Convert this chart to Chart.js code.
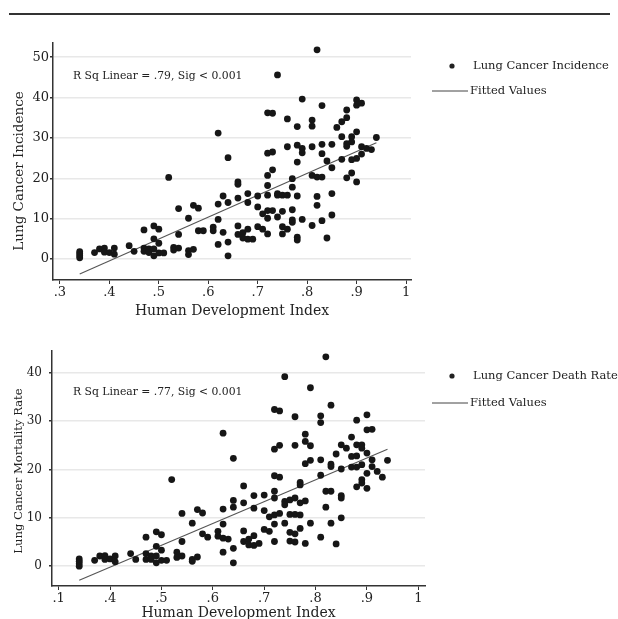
<!DOCTYPE html>
<html>
<head>
<meta charset="utf-8">
<script src="https://cdn.jsdelivr.net/npm/chart.js@4/dist/chart.umd.min.js"></script>
<style>
  html, body { margin: 0; padding: 0; background: #fff; overflow: hidden; }
  body { width: 618px; height: 619px; position: relative; }
  .rule { position: absolute; left: 9px; top: 13px; width: 601px; height: 0; border-top: 2px solid #333; }
  .box { position: absolute; left: 0; width: 618px; }
</style>
</head>
<body>
<div class="rule"></div>
<div class="box" style="top:0;height:320px"><canvas id="topChart" width="618" height="320"></canvas></div>
<div class="box" style="top:320px;height:310px"><canvas id="botChart" width="618" height="310"></canvas></div>
<script>
// incidence vs HDI
const incHdi = [
  .34,.34,.34,.34, .37, .38, .39,.39, .40, .41,.41, .44, .45, .47,.47,.47, .48,.48,
  .49,.49,.49,.49, .50,.50,.50, .51, .52, .53,.53, .54,.54,.54, .56,.56,.56, .57,.57,
  .58,.58, .59, .61,.61, .62,.62,.62,.62, .63,.63, .64,.64,.64,.64, .66,.66,.66,.66,.66,
  .67,.67, .68,.68,.68,.68, .69, .70,.70,.70, .71,.71, .72,.72,.72,.72,.72,.72,.72,.72,
  .73,.73,.73,.73, .74,.74,.74,.74, .75,.75,.75,.75, .76,.76,.76,.76, .77,.77,.77,.77,.77,
  .78,.78,.78,.78,.78,.78, .79,.79,.79,.79, .81,.81,.81,.81,.81, .82,.82,.82,.82,
  .83,.83,.83,.83,.83, .84,.84, .85,.85,.85,.85, .86, .87,.87,.87, .88,.88,.88,.88,.88,
  .89,.89,.89,.89, .90,.90,.90,.90,.90, .91,.91,.91, .92, .93, .94
];
const incidence = [
  0.3,0.8,1.3,1.8, 1.6, 2.5, 2.7,1.7, 1.6, 2.7,1.2, 3.3, 1.9, 7.2,2.7,1.9, 2.5,1.6,
  8.2,5.0,2.5,0.8, 7.4,3.9,1.5, 1.5, 20.2, 2.9,2.2, 12.5,6.1,2.7, 10.1,2.1,1.1, 13.3,2.4,
  12.6,7.0, 7.0, 7.9,7.0, 31.2,13.6,9.8,3.6, 15.6,6.6, 25.1,14.0,4.2,0.8, 19.1,18.5,15.1,8.2,6.1,
  6.5,5.2, 16.2,14.0,7.4,4.9, 4.9, 15.6,12.9,8.0, 11.2,7.4, 36.2,26.2,20.7,18.2,15.8,12.0,10.1,6.2,
  36.1,26.5,22.1,12.0, 45.6,16.2,15.8,10.4, 15.8,11.8,8.0,6.2, 34.7,27.8,15.8,7.4, 19.9,17.8,12.2,9.7,9.1,
  32.8,28.2,24.0,15.6,5.4,4.7, 39.6,27.4,26.3,9.8, 34.4,32.9,27.8,20.7,8.3, 51.8,20.3,15.5,13.3,
  38.0,28.4,26.1,20.3,9.5, 24.3,5.2, 28.4,22.6,16.2,10.9, 32.6, 34.0,30.3,24.7, 36.9,35.0,28.6,27.9,20.1,
  30.3,29.0,24.6,21.3, 39.4,38.1,31.5,24.9,19.1, 38.6,27.8,26.0, 27.4, 27.1, 30.1
];
const incFitX = [0.34, 0.94];
const incFitY = [-3.7, 28.8];

// mortality vs HDI
const mortHdi = [
  .34,.34,.34,.34, .37, .38, .39,.39, .40, .41,.41, .44, .45, .47,.47,.47, .48,.48,
  .49,.49,.49,.49, .50,.50,.50, .51, .52, .53,.53, .54,.54,.54, .56,.56,.56, .57,.57,
  .58,.58, .59, .61,.61, .62,.62,.62,.62,.62, .63, .64,.64,.64,.64,.64, .66,.66,.66,.66,
  .67,.67, .68,.68,.68,.68, .69, .70,.70,.70, .71,.71, .72,.72,.72,.72,.72,.72,.72,.72,
  .73,.73,.73,.73, .74,.74,.74,.74, .75,.75,.75,.75, .76,.76,.76,.76,.76,.76, .77,.77,.77,.77,.77,
  .78,.78,.78,.78,.78, .79,.79,.79,.79, .81,.81,.81,.81,.81, .82,.82,.82,
  .83,.83,.83,.83,.83, .84,.84, .85,.85,.85,.85,.85, .86, .87,.87,.87, .88,.88,.88,.88,.88,
  .89,.89,.89,.89,.89, .90,.90,.90,.90,.90, .91,.91,.91, .92, .93, .94
];
const mortality = [
  1.5,1.0,0.5,0.0, 1.2, 2.1, 2.2,1.4, 1.5, 2.1,0.9, 2.6, 1.4, 6.0,2.6,1.4, 2.1,1.4,
  7.1,4.1,2.1,0.7, 6.5,3.3,1.2, 1.2, 17.9, 2.9,1.8, 10.9,5.1,2.1, 8.9,1.4,1.0, 11.7,1.9,
  11.0,6.7, 6.0, 7.2,6.2, 27.5,11.8,8.7,5.8,2.9, 5.6, 22.3,13.6,12.2,3.7,0.7, 16.6,13.1,7.3,5.1,
  5.6,4.4, 14.6,12.0,6.3,4.3, 4.7, 14.7,11.5,7.6, 10.2,7.2, 32.4,24.2,18.7,15.5,14.1,10.6,8.7,5.1,
  32.1,25.0,18.4,10.9, 39.2,13.4,12.7,8.9, 13.7,10.7,7.0,5.2, 30.9,25.0,14.1,10.7,6.7,5.0, 17.3,16.8,13.1,10.6,7.8,
  27.3,25.8,21.2,13.5,4.7, 36.9,24.9,21.9,8.9, 31.1,29.7,22.0,18.8,6.0, 43.3,15.5,12.2,
  33.3,21.1,20.6,15.5,8.9, 23.2,4.6, 25.1,20.1,14.6,14.1,10.0, 24.4, 26.7,22.7,20.5, 30.2,25.1,22.8,20.5,16.4,
  25.1,24.4,21.0,17.9,17.2, 31.3,28.2,23.4,19.2,16.1, 28.3,22.0,20.6, 19.6, 18.4, 21.9
];
const mortFitX = [0.34, 0.94];
const mortFitY = [-2.9, 24.2];

const xTickVals = [0.3, 0.4, 0.5, 0.6, 0.7, 0.8, 0.9, 1.0];
const incXLabels = [".3", ".4", ".5", ".6", ".7", ".8", ".9", "1"];
const mortXLabels = [".1", ".4", ".5", ".6", ".7", ".8", ".9", "1"];
const incYTicks = [0, 10, 20, 30, 40, 50];
const mortYTicks = [0, 10, 20, 30, 40];

const SERIF = "'DejaVu Serif', serif";

// draws the R² note, the rotated y title and the legend
const notePlugin = {
  id: 'notes',
  afterDraw(chart, args, o) {
    const ctx = chart.ctx;
    ctx.save();
    ctx.fillStyle = '#222';
    ctx.textBaseline = 'middle';
    ctx.font = '10.8px ' + SERIF;
    ctx.textAlign = 'left';
    ctx.fillText(o.note, o.noteX, o.noteY);

    ctx.save();
    ctx.translate(o.yTitleX, o.yTitleY);
    ctx.rotate(-Math.PI / 2);
    ctx.textAlign = 'center';
    ctx.font = o.yTitleSize + 'px ' + SERIF;
    ctx.fillText(o.yTitle, 0, 0);
    ctx.restore();

    const ds = chart.data.datasets;
    ctx.font = '11.5px ' + SERIF;
    ctx.beginPath();
    ctx.arc(o.legX + 20, o.legY, 2.6, 0, Math.PI * 2);
    ctx.fill();
    ctx.fillText(ds[0].label, o.legX + 41, o.legY);
    ctx.strokeStyle = '#444';
    ctx.lineWidth = 1;
    ctx.beginPath();
    ctx.moveTo(o.legX, o.legY + o.legGap);
    ctx.lineTo(o.legX + 36, o.legY + o.legGap);
    ctx.stroke();
    ctx.fillText(ds[1].label, o.legX + 38, o.legY + o.legGap);
    ctx.restore();
  }
};

function makeChart(id, xs, ys, fitX, fitY, cfg) {
  const pts = xs.map((x, i) => ({ x: x, y: ys[i] }));
  const fit = fitX.map((x, i) => ({ x: x, y: fitY[i] }));
  return new Chart(document.getElementById(id), {
    type: 'scatter',
    data: {
      datasets: [
        {
          label: cfg.label,
          data: pts,
          backgroundColor: '#161616',
          borderColor: '#161616',
          pointRadius: 3.4,
          pointBorderWidth: 0
        },
        {
          label: 'Fitted Values',
          data: fit,
          type: 'line',
          showLine: true,
          borderColor: '#555',
          borderWidth: 1.1,
          pointRadius: 0,
          fill: false
        }
      ]
    },
    options: {
      responsive: false,
      animation: false,
      events: [],
      layout: { padding: cfg.padding },
      plugins: {
        legend: { display: false },
        tooltip: { enabled: false },
        notes: cfg.notes
      },
      scales: {
        x: {
          type: 'linear',
          min: cfg.xMin,
          max: cfg.xMax,
          afterBuildTicks: s => { s.ticks = xTickVals.map(v => ({ value: v })); },
          afterFit: s => { s.height = cfg.xHeight; },
          ticks: {
            color: '#222',
            font: { family: SERIF, size: 13 },
            padding: 1,
            maxRotation: 0,
            callback: (v, i) => cfg.xLabels[i]
          },
          grid: { drawOnChartArea: false, drawTicks: true, tickLength: 4, tickColor: '#333' },
          border: { display: true, color: '#333', width: 1.5 },
          title: {
            display: true,
            text: 'Human Development Index',
            color: '#222',
            font: { family: SERIF, size: 14 },
            padding: { top: 0, bottom: cfg.xTitlePad }
          }
        },
        y: {
          min: cfg.yMin,
          max: cfg.yMax,
          afterBuildTicks: s => { s.ticks = cfg.yTicks.map(v => ({ value: v })); },
          afterFit: s => { s.width = cfg.yWidth; },
          ticks: {
            color: '#222',
            font: { family: SERIF, size: cfg.yTickSize },
            padding: cfg.yTickPad
          },
          grid: { color: '#e8e8e8', lineWidth: 1.5, tickLength: 3, tickColor: '#333' },
          border: { display: true, color: '#333', width: 1.5 }
        }
      }
    },
    plugins: [notePlugin]
  });
}

makeChart('topChart', incHdi, incidence, incFitX, incFitY, {
  label: 'Lung Cancer Incidence',
  padding: { top: 43, right: 207, left: 0, bottom: 0 },
  xMin: 0.286, xMax: 1.01, yMin: -5.2, yMax: 53.5,
  xHeight: 40, yWidth: 53, xTitlePad: 0,
  xLabels: incXLabels, yTicks: incYTicks, yTickSize: 13, yTickPad: 1,
  notes: {
    note: 'R Sq Linear = .79, Sig < 0.001', noteX: 73, noteY: 76,
    yTitle: 'Lung Cancer Incidence', yTitleX: 19, yTitleY: 171, yTitleSize: 13.5,
    legX: 432, legY: 66, legGap: 25
  }
});

makeChart('botChart', mortHdi, mortality, mortFitX, mortFitY, {
  label: 'Lung Cancer Death Rate',
  padding: { top: 31, right: 193, left: 0, bottom: 0 },
  xMin: 0.287, xMax: 1.013, yMin: -4.1, yMax: 44.5,
  xHeight: 44, yWidth: 52, xTitlePad: 8,
  xLabels: mortXLabels, yTicks: mortYTicks, yTickSize: 12, yTickPad: 7,
  notes: {
    note: 'R Sq Linear = .77, Sig < 0.001', noteX: 73, noteY: 72,
    yTitle: 'Lung Cancer Mortality Rate', yTitleX: 19, yTitleY: 151, yTitleSize: 11.6,
    legX: 432, legY: 56, legGap: 27
  }
});
</script>
</body>
</html>
